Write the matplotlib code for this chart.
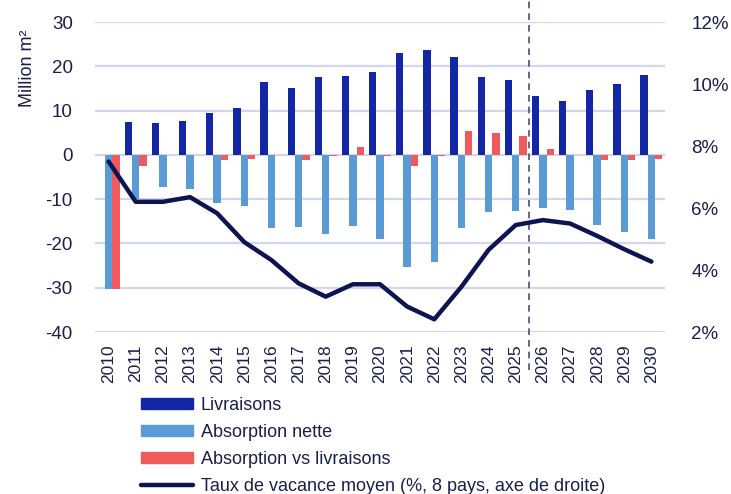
import numpy as np
import matplotlib
matplotlib.use('Agg')
import matplotlib.pyplot as plt
from matplotlib.patches import Patch
from matplotlib.lines import Line2D
import matplotlib.transforms as mtransforms

plt.rcParams['font.family'] = ['Liberation Sans Narrow', 'Liberation Sans', 'DejaVu Sans']
plt.rcParams['axes.unicode_minus'] = False

# données
annees = [str(a) for a in range(2010, 2031)]
livraisons = [np.nan, 7.4, 7.1, 7.6, 9.4, 10.6, 16.4, 15.1, 17.6, 17.8, 18.8,
              22.9, 23.6, 22.0, 17.6, 17.0, 13.3, 12.2, 14.6, 16.0, 18.1]
absorption = [-30.4, -9.9, -7.2, -7.6, -10.8, -11.5, -16.5, -16.4, -17.9, -16.1, -19.0,
              -25.4, -24.1, -16.5, -12.8, -12.6, -12.1, -12.5, -15.8, -17.4, -19.1]
ecart = [-30.4, -2.5, -0.1, 0.0, -1.2, -0.9, -0.1, -1.2, -0.2, 1.8, -0.2,
         -2.5, -0.3, 5.4, 5.0, 4.3, 1.3, -0.1, -1.2, -1.2, -1.0]
vacance = [7.5, 6.2, 6.2, 6.35, 5.83, 4.9, 4.32, 3.57, 3.14, 3.54, 3.54,
           2.82, 2.41, 3.46, 4.65, 5.45, 5.61, 5.5, 5.1, 4.67, 4.27]

c_livr = '#1226A6'
c_abs = '#5B9BD5'
c_ecart = '#F05A5C'
c_line = '#0D1452'
c_txt = '#1B1F4B'
c_grid = '#D3D7EE'

fig = plt.figure(figsize=(7.31, 4.94), dpi=100)
ax = fig.add_axes([95/731, 1-332/494, 570/731, 310/494])
ax2 = ax.twinx()

x = np.arange(len(annees))
w = 0.27
ax.bar(x - w, livraisons, w, color=c_livr, zorder=2)
ax.bar(x, absorption, w, color=c_abs, zorder=2)
ax.bar(x + w, ecart, w, color=c_ecart, zorder=2)

ax.set_ylim(-40, 30)
ax.set_yticks(range(-40, 31, 10))
ax.set_xlim(-0.5, len(annees) - 0.5)
ax.set_xticks(x)
ax.set_xticklabels(annees, rotation=90)
ax.yaxis.grid(True, color=c_grid, lw=1.6, zorder=0)
ax.set_axisbelow(True)
for s in ax.spines.values():
    s.set_visible(False)
for s in ax2.spines.values():
    s.set_visible(False)
ax.tick_params(axis='y', length=0, pad=16, labelsize=13.5, labelcolor=c_txt)
ax.tick_params(axis='x', length=0, pad=9, labelsize=12.5, labelcolor=c_txt)

ax2.plot(x, vacance, color=c_line, lw=3.2, solid_capstyle='round', zorder=5)
ax2.set_ylim(2, 12)
ax2.set_yticks(range(2, 13, 2))
ax2.set_yticklabels([f'{v}%' for v in range(2, 13, 2)])
ax2.tick_params(axis='y', length=0, pad=19, labelsize=13.5, labelcolor=c_txt)

# ligne pointillée entre 2025 et 2026
trans = mtransforms.blended_transform_factory(ax.transData, ax.transAxes)
ax.plot([15.5, 15.5], [-0.123, 1.071], transform=trans, color='#4A5070',
        lw=1.2, ls=(0, (4, 3)), clip_on=False, zorder=6)

fig.text(27/731, 1-68/494, 'Million m²', rotation=90, ha='center', va='center',
         fontsize=13, color=c_txt)

handles = [Patch(color=c_livr), Patch(color=c_abs), Patch(color=c_ecart),
           Line2D([], [], color=c_line, lw=3.2, solid_capstyle='round')]
labels = ['Livraisons', 'Absorption nette', 'Absorption vs livraisons',
          'Taux de vacance moyen (%, 8 pays, axe de droite)']
leg = fig.legend(handles, labels, loc='upper left', bbox_to_anchor=(141/731, 1-397/494),
                 frameon=False, fontsize=13, handlelength=2.9, handleheight=0.6,
                 handletextpad=0.4, labelspacing=0.55, borderpad=0, borderaxespad=0)
for t in leg.get_texts():
    t.set_color(c_txt)

fig.savefig('out.png', dpi=100)
